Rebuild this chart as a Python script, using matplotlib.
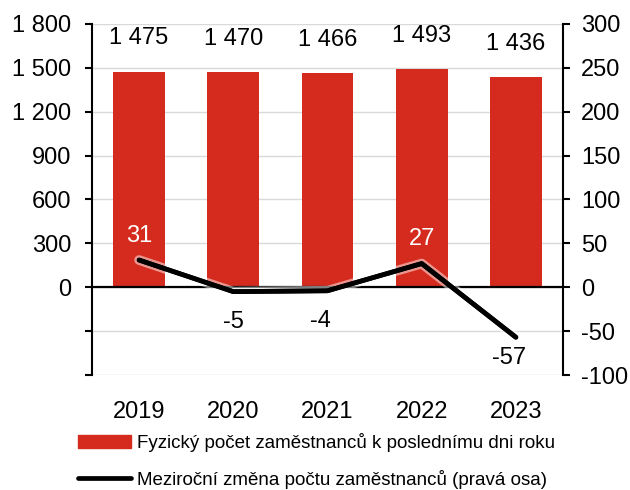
import matplotlib.pyplot as plt
import matplotlib.patheffects as pe
from matplotlib.patches import Patch
from matplotlib.lines import Line2D
from matplotlib.ticker import FuncFormatter

plt.rcParams['font.family'] = ['Liberation Sans', 'DejaVu Sans']
plt.rcParams['axes.unicode_minus'] = False

years = ['2019', '2020', '2021', '2022', '2023']
headcount = [1475, 1470, 1466, 1493, 1436]
yoy_change = [31, -5, -4, 27, -57]

bar_label = 'Fyzický počet zaměstnanců k poslednímu dni roku'
line_label = 'Meziroční změna počtu zaměstnanců (pravá osa)'

red = '#d52b1e'
grid_col = '#d9d9d9'

fig = plt.figure(figsize=(6.3, 4.9), dpi=100)
ax = fig.add_axes([92/630, 1-375/490, 471/630, 351/490])
ax2 = ax.twinx()

x = list(range(len(years)))

# bars on the left axis
ax.bar(x, headcount, width=0.55, color=red, zorder=2)
ax.set_xlim(-0.5, 4.5)
ax.set_ylim(-600, 1800)
ax.set_yticks(range(-600, 1801, 300))
ax.yaxis.set_major_formatter(FuncFormatter(
    lambda v, p: '' if v < 0 else f'{int(v):,}'.replace(',', ' ')))
ax.grid(axis='y', color=grid_col, lw=1, zorder=0)
ax.set_axisbelow(True)
ax.set_xticks(x)
ax.set_xticklabels(years)
ax.tick_params(axis='x', length=0, pad=19, labelsize=17)
ax.tick_params(axis='y', direction='out', length=5, width=1.5, pad=10, labelsize=17)
for s in ['top', 'bottom', 'right']:
    ax.spines[s].set_visible(False)
ax.spines['left'].set_linewidth(1.5)

for xi, v in zip(x, headcount):
    ax.annotate(f'{v:,}'.replace(',', ' '), (xi, v), xytext=(0, 24),
                textcoords='offset points', ha='center', va='center', fontsize=17)

# line on the right axis
ax2.set_ylim(-100, 300)
ax2.set_yticks(range(-100, 301, 50))
ax2.tick_params(axis='y', direction='out', length=5, width=1.5, pad=8, labelsize=17)
for s in ['top', 'bottom', 'left']:
    ax2.spines[s].set_visible(False)
ax2.spines['right'].set_linewidth(1.5)
ax2.axhline(0, color='black', lw=1.6, zorder=3)
ax2.plot(x, yoy_change, color='black', lw=3.4, solid_capstyle='round', zorder=4,
         path_effects=[pe.withStroke(linewidth=7, foreground='white', alpha=0.5), pe.Normal()])

offsets = [(0, 17), (0, -22), (-5, -22), (0, 18), (-5, -15)]
for xi, v, off in zip(x, yoy_change, offsets):
    ax2.annotate(str(v), (xi, v), xytext=off, textcoords='offset points',
                 ha='center', va='center', fontsize=17,
                 color='white' if v > 0 else 'black')

handles = [Patch(color=red), Line2D([0], [0], color='black', lw=3.4, solid_capstyle='round')]
fig.legend(handles, [bar_label, line_label], loc='upper left',
           bbox_to_anchor=(78/630, 1-433/490), frameon=False, fontsize=13.5,
           handlelength=2.85, handleheight=0.65, handletextpad=0.3,
           labelspacing=0.95, borderpad=0, borderaxespad=0)

fig.savefig('out.png', dpi=100)
